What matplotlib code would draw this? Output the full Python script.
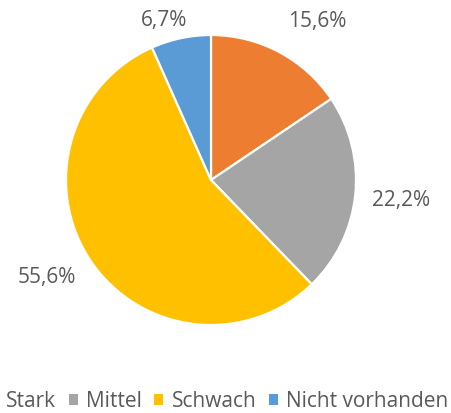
import matplotlib.pyplot as plt
from matplotlib.patches import Patch
import numpy as np

categories = ['Stark', 'Mittel', 'Schwach', 'Nicht vorhanden']
values = [7, 10, 25, 3]
labels = ['15,6%', '22,2%', '55,6%', '6,7%']
colors = ['#ED7D31', '#A5A5A5', '#FFC000', '#5B9BD5']
# label placement: distance (in radii) and angle shift from slice middle
label_dist = [1.316, 1.32, 1.32, 1.15]
label_shift = [-6.0, 0.0, -3.3, 4.4]

plt.rcParams['font.family'] = ['Open Sans', 'DejaVu Sans']
text_color = '#595959'

fig = plt.figure(figsize=(4.52, 4.13), dpi=100)
W, H = 452, 413
cx, cy, r = 211, 180, 145
ax = fig.add_axes([(cx - r) / W, (H - cy - r) / H, 2 * r / W, 2 * r / H])

wedges, _ = ax.pie(values, colors=colors, startangle=90, counterclock=False,
                   wedgeprops=dict(edgecolor='white', linewidth=1.6))
ax.set_xlim(-1, 1)
ax.set_ylim(-1, 1)
ax.set_aspect('equal')
ax.axis('off')

for w, lab, d, s in zip(wedges, labels, label_dist, label_shift):
    ang = np.deg2rad((w.theta1 + w.theta2) / 2 + s)
    ax.text(d * np.cos(ang), d * np.sin(ang), lab, ha='center', va='center',
            fontsize=15, color=text_color, clip_on=False)

handles = [Patch(facecolor=c, edgecolor='none') for c in colors]
leg = fig.legend(handles, categories, loc='lower right', ncol=4, frameon=False,
                 bbox_to_anchor=(0.992, 0.002), fontsize=15, handlelength=0.43,
                 handleheight=0.43, handletextpad=0.4, columnspacing=0.6,
                 borderpad=0, borderaxespad=0, labelcolor=text_color)

fig.savefig('out.png', dpi=100)
